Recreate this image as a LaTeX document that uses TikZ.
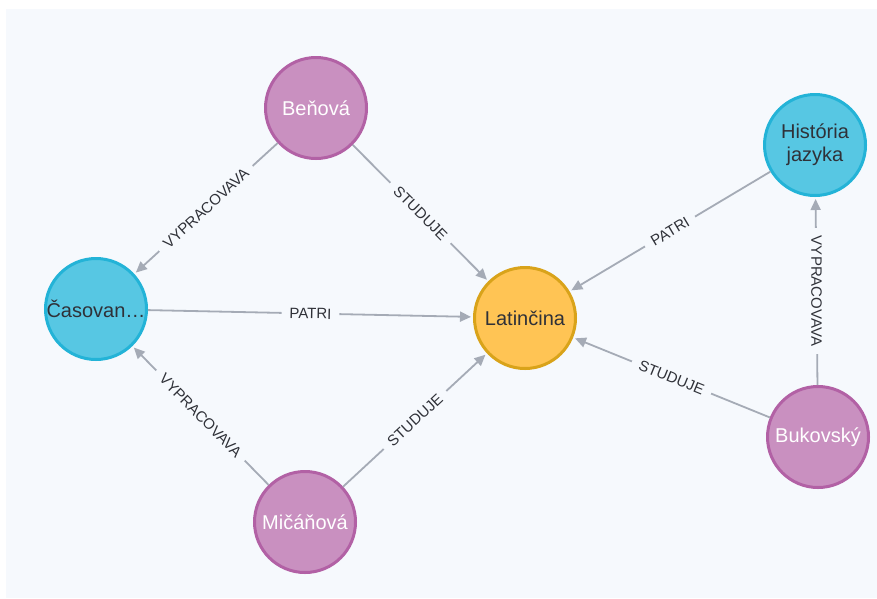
\documentclass[tikz,border=0pt]{standalone}
\usepackage{fontspec}
\setmainfont{Liberation Sans}
\usetikzlibrary{arrows.meta}
\definecolor{bgc}{HTML}{F6F9FD}
\definecolor{purfill}{HTML}{C990C0}
\definecolor{purline}{HTML}{B261A5}
\definecolor{bluefill}{HTML}{57C7E3}
\definecolor{blueline}{HTML}{23B3D7}
\definecolor{yelfill}{HTML}{FFC454}
\definecolor{yelline}{HTML}{D9A31A}
\definecolor{edgec}{HTML}{A5ABB6}
\definecolor{txt}{HTML}{2F3138}
\tikzset{
  gnode/.style={circle, minimum size=101pt, inner sep=0pt, line width=3pt,
    font=\fontsize{20}{23}\selectfont, align=center},
  person/.style={gnode, fill=purfill, draw=purline, text=white},
  topic/.style={gnode, fill=bluefill, draw=blueline, text=txt},
  lang/.style={gnode, fill=yelfill, draw=yelline, text=txt},
  rel/.style={draw=edgec, line width=1.8pt, -{Triangle[length=11pt,width=10pt]}, shorten >=2pt},
  rlab/.style={fill=bgc, text=txt, inner xsep=8pt, inner ysep=1pt,
    font=\fontsize{15}{17}\selectfont}
}
\begin{document}
\begin{tikzpicture}[x=1pt,y=-1pt]
\fill[white] (0,0) rectangle (877,598);
\fill[bgc] (6,9) rectangle (877,598);
\useasboundingbox (0,0) rectangle (877,598);
\node[person] (ben) at (316,108) {Beňová};
\node[topic] (cas) at (96,309) {Časovan…};
\node[lang] (lat) at (525,318) {Latinčina};
\node[topic] (his) at (815,145) {História\\jazyka};
\node[person] (buk) at (818,437) {Bukovský};
\node[person] (mic) at (305,522) {Mičáňová};
\draw[rel] (ben) -- node[rlab, sloped, midway] {VYPRACOVAVA} (cas);
\draw[rel] (ben) -- node[rlab, sloped, midway] {STUDUJE} (lat);
\draw[rel] (cas) -- node[rlab, sloped, midway] {PATRI} (lat);
\draw[rel] (mic) -- node[rlab, sloped, midway] {VYPRACOVAVA} (cas);
\draw[rel] (mic) -- node[rlab, sloped, midway] {STUDUJE} (lat);
\draw[rel] (his) -- node[rlab, sloped, midway] {PATRI} (lat);
\draw[rel] (buk) -- node[rlab, sloped, midway] {STUDUJE} (lat);
\draw[rel] (buk) -- node[rlab, rotate=-90, midway] {VYPRACOVAVA} (his);
\end{tikzpicture}
\end{document}
